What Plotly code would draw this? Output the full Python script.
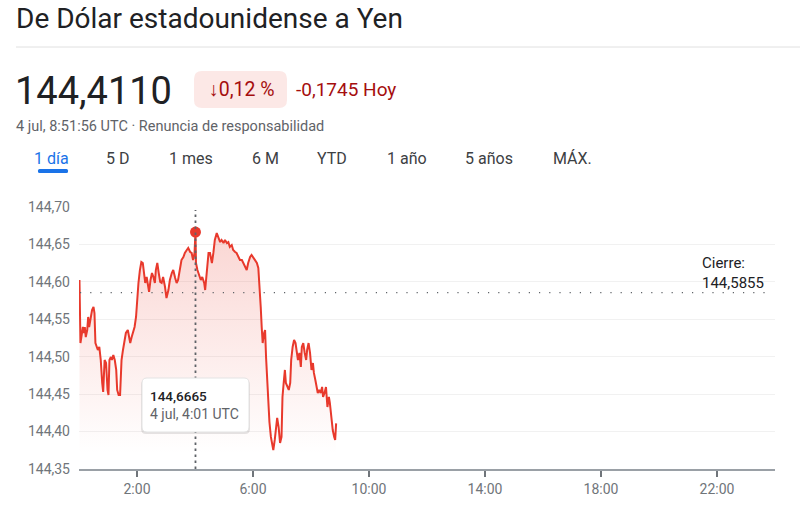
import plotly.graph_objects as go

# ---------------- data ----------------
minutes = [1, 3, 8, 10, 12, 14, 17, 19, 21, 23, 25, 27, 30, 32, 34, 37, 39, 42, 45, 48,
           50, 53, 56, 59, 61, 63, 66, 68, 71, 74, 77, 79, 82, 85, 88, 91, 95, 97, 101, 103,
           106, 109, 112, 115, 118, 120, 123, 126, 129, 132, 134, 137, 140, 143, 145, 148, 151, 154, 157, 159,
           162, 165, 168, 171, 174, 178, 181, 185, 188, 192, 195, 199, 202, 205, 209, 212, 216, 219, 223, 226,
           230, 233, 236, 239, 241, 242, 245, 249, 252, 255, 259, 261, 264, 268, 271, 275, 278, 281, 285, 288,
           292, 295, 299, 302, 306, 309, 312, 316, 319, 323, 326, 330, 333, 337, 340, 343, 347, 350, 354, 357,
           361, 364, 368, 371, 373, 376, 378, 380, 383, 385, 387, 390, 392, 394, 397, 399, 402, 405, 408, 410,
           413, 416, 419, 421, 424, 426, 428, 431, 434, 437, 439, 442, 445, 448, 450, 453, 456, 459, 461, 464,
           467, 470, 472, 475, 478, 481, 484, 486, 489, 492, 494, 497, 500, 503, 505, 508, 511, 514, 517, 519,
           522, 525, 528, 530, 532]
rates = [144.6025, 144.5183, 144.5397, 144.5317, 144.5397, 144.5263, 144.5357, 144.5531, 144.5397, 144.5491,
         144.5584, 144.5624, 144.5664, 144.5584, 144.5183, 144.5130, 144.5090, 144.5130, 144.4956, 144.4649,
         144.4529, 144.4956, 144.4916, 144.4556, 144.4489, 144.4956, 144.4996, 144.4956, 144.5023, 144.4956,
         144.4823, 144.4556, 144.4489, 144.4489, 144.4956, 144.5090, 144.5223, 144.5317, 144.5357, 144.5263,
         144.5183, 144.5263, 144.5317, 144.5397, 144.5531, 144.5758, 144.5985, 144.6158, 144.6265, 144.6252,
         144.6118, 144.5985, 144.6065, 144.5931, 144.5865, 144.6025, 144.6118, 144.6065, 144.5985, 144.6158,
         144.6252, 144.6118, 144.5998, 144.5985, 144.6065, 144.5931, 144.5784, 144.5891, 144.6025, 144.6118,
         144.6158, 144.6052, 144.5985, 144.6025, 144.6158, 144.6292, 144.6332, 144.6386, 144.6426, 144.6452,
         144.6399, 144.6386, 144.6292, 144.6386, 144.6665, 144.6252, 144.6158, 144.6065, 144.6025, 144.6065,
         144.5985, 144.5891, 144.6158, 144.6386, 144.6386, 144.6252, 144.6386, 144.6559, 144.6653, 144.6586,
         144.6532, 144.6559, 144.6519, 144.6559, 144.6519, 144.6532, 144.6466, 144.6492, 144.6426, 144.6399,
         144.6386, 144.6332, 144.6292, 144.6292, 144.6252, 144.6199, 144.6158, 144.6252, 144.6332, 144.6359,
         144.6319, 144.6292, 144.6252, 144.6185, 144.5891, 144.5664, 144.5397, 144.5183, 144.5317, 144.5357,
         144.4996, 144.4556, 144.4195, 144.4128, 144.3928, 144.3848, 144.3754, 144.3888, 144.4061, 144.4182,
         144.4061, 144.3848, 144.3928, 144.4462, 144.4689, 144.4823, 144.4649, 144.4596, 144.4556, 144.4649,
         144.4956, 144.5130, 144.5223, 144.5183, 144.5090, 144.4956, 144.5050, 144.4863, 144.5130, 144.5183,
         144.5050, 144.4956, 144.5090, 144.5183, 144.5050, 144.4823, 144.4916, 144.4783, 144.4689, 144.4596,
         144.4515, 144.4556, 144.4515, 144.4596, 144.4462, 144.4515, 144.4596, 144.4328, 144.4462, 144.4382,
         144.4155, 144.4021, 144.3928, 144.3888, 144.4110]

close_value = 144.5855
hover_minute = 241
hover_value = 144.6665
y_ticks = [144.35, 144.40, 144.45, 144.50, 144.55, 144.60, 144.65, 144.70]
x_tick_labels = ["2:00", "6:00", "10:00", "14:00", "18:00", "22:00"]
tabs = ["1 día", "5 D", "1 mes", "6 M", "YTD", "1 año", "5 años", "MÁX."]

title = "De Dólar estadounidense a Yen"
price_text = "144,4110"
pct_text = "↓0,12 %"
change_text = "-0,1745 Hoy"
subtitle = "4 jul, 8:51:56 UTC · Renuncia de responsabilidad"
tooltip_value = "144,6665"
tooltip_time = "4 jul, 4:01 UTC"
close_label = "Cierre:<br>144,5855"

# ---------------- layout helpers (screen pixel -> paper) ----------------
W, H = 800, 519
L, R, T, B = 79, 775, 207, 469   # plot area in screen pixels


def px(x):
    return (x - L) / (R - L)


def py(y):
    return (B - y) / (B - T)


def rounded_rect(x0, y0, x1, y1, r):
    def P(x, y):
        return f"{px(x):.5f},{py(y):.5f}"
    return (f"M {P(x0 + r, y0)} L {P(x1 - r, y0)} Q {P(x1, y0)} {P(x1, y0 + r)} "
            f"L {P(x1, y1 - r)} Q {P(x1, y1)} {P(x1 - r, y1)} "
            f"L {P(x0 + r, y1)} Q {P(x0, y1)} {P(x0, y1 - r)} "
            f"L {P(x0, y0 + r)} Q {P(x0, y0)} {P(x0 + r, y0)} Z")


RED = "#e8392c"
FONT = "Roboto"

fig = go.Figure()
fig.add_trace(go.Scatter(
    x=minutes, y=rates, mode="lines",
    line=dict(color=RED, width=2),
    fill="tozeroy",
    fillgradient=dict(type="vertical", start=144.37, stop=144.67,
                      colorscale=[[0, "rgba(234,67,53,0)"], [1, "rgba(234,67,53,0.22)"]]),
    hoverinfo="skip", showlegend=False,
))
fig.add_trace(go.Scatter(
    x=[hover_minute], y=[hover_value], mode="markers",
    marker=dict(color=RED, size=11), hoverinfo="skip", showlegend=False,
))

x_tick_vals = [int(t.split(":")[0]) * 60 + int(t.split(":")[1]) for t in x_tick_labels]

shapes = []
annotations = []

shapes.append(dict(type="line", xref="paper", yref="paper", x0=px(16), x1=px(800),
                   y0=py(47), y1=py(47), line=dict(color="#e0e0e0", width=1)))
shapes.append(dict(type="path", xref="paper", yref="paper", path=rounded_rect(194, 71, 287, 108, 8),
                   fillcolor="#fce8e6", line=dict(width=0)))
shapes.append(dict(type="path", xref="paper", yref="paper", path=rounded_rect(38, 169, 68, 173, 1.5),
                   fillcolor="#1a73e8", line=dict(width=0)))
shapes.append(dict(type="line", xref="paper", yref="y", x0=px(80), x1=px(767),
                   y0=close_value, y1=close_value,
                   line=dict(color="#5f6368", width=1.2, dash="1.2px,9px")))
shapes.append(dict(type="line", xref="x", yref="paper", x0=hover_minute, x1=hover_minute,
                   y0=0, y1=py(210), line=dict(color="#5f6368", width=1.8, dash="2.5px,3.5px")))
shapes.append(dict(type="path", xref="paper", yref="paper", path=rounded_rect(141, 380, 250, 434, 5),
                   fillcolor="rgba(0,0,0,0.10)", line=dict(width=0)))
shapes.append(dict(type="path", xref="paper", yref="paper", path=rounded_rect(142, 378, 249, 432, 5),
                   fillcolor="white", line=dict(color="#e3e3e3", width=1)))


def text(x, y, s, size, color, xanchor="left", yanchor="middle", weight=None, family=FONT):
    f = dict(family=family, size=size, color=color)
    if weight:
        f["weight"] = weight
    annotations.append(dict(xref="paper", yref="paper", x=px(x), y=py(y), text=s,
                            showarrow=False, xanchor=xanchor, yanchor=yanchor, font=f,
                            align="left", borderpad=0))


text(15, 19, title, 28, "#202124")
text(14, 91, price_text, 38, "#202124")
text(242, 89, pct_text, 19.5, "#a50e0e", xanchor="center")
text(295, 89, change_text, 19, "#a50e0e")
text(15, 127, subtitle, 14.5, "#5f6368")
tab_x = [33, 105, 168, 251, 316, 386, 464, 552]
for i, (t, x) in enumerate(zip(tabs, tab_x)):
    text(x, 159, t, 16, "#1a73e8" if i == 0 else "#3c4043")
text(149, 396, tooltip_value, 13.5, "#202124", weight=500)
text(149, 414, tooltip_time, 14, "#5f6368")
text(701, 253, close_label, 15, "#202124", yanchor="top")

fig.update_layout(
    width=W, height=H,
    margin=dict(l=L, r=W - R, t=T, b=H - B),
    paper_bgcolor="white", plot_bgcolor="white",
    separators=", ",
    font=dict(family=FONT, color="#70757a", size=14),
    shapes=shapes, annotations=annotations,
    xaxis=dict(range=[0, 1440], tickvals=x_tick_vals, ticktext=x_tick_labels,
               showgrid=False, zeroline=False, showline=True, linecolor="#9aa0a6", linewidth=1.5,
               ticks="outside", ticklen=6, tickwidth=1.5, tickcolor="#70757a",
               tickfont=dict(size=14, color="#70757a"), fixedrange=True),
    yaxis=dict(range=[144.35, 144.70], tickvals=y_ticks, tickformat=".2f",
               showgrid=True, gridcolor="#f1f1f1", gridwidth=1, zeroline=False, showline=False,
               ticks="", ticklabelstandoff=8,
               tickfont=dict(size=14, color="#70757a"), fixedrange=True),
    hovermode=False,
)

fig.write_html("out.html", config={"displayModeBar": False},
               post_script="document.body.style.margin='0px';document.body.style.overflow='hidden';")
